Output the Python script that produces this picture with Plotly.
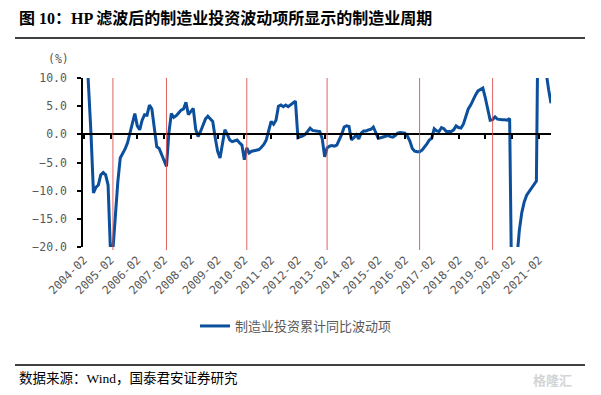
import plotly.graph_objects as go

# ---------------- data ----------------
# monthly (Feb..Dec each year; Jan merged into Feb), 2004-02 .. 2021-07
years = list(range(2004, 2022))
categories = [f"{y}-{m:02d}" for y in years for m in range(2, 13)
              if not (y == 2021 and m > 7)]

cycle_values = [
    # 2004
    25.0, 17.0, 10.3, 0.0, -10.4, -9.4, -9.0, -7.2, -6.8, -7.2, -9.0,
    # 2005
    -21.0, -20.5, -14.0, -8.5, -4.2, -3.5, -2.6, -1.5, 0.3, 2.2, 3.7,
    # 2006
    1.5, 0.8, 2.5, 3.5, 3.4, 5.2, 4.5, 1.5, -2.2, -2.5, -3.5,
    # 2007
    -4.6, -5.7, 0.3, 3.7, 3.0, 3.3, 3.8, 4.3, 4.5, 5.7, 3.5,
    # 2008
    4.0, 4.6, 0.9, -0.4, 0.5, 1.7, 2.7, 3.2, 2.8, 2.3, -0.5,
    # 2009
    -3.0, -4.2, -1.5, 0.8, 0.0, -1.0, -1.3, -1.1, -1.0, -1.5, -1.9,
    # 2010
    -4.5, -2.4, -3.3, -3.0, -2.9, -2.8, -2.7, -2.3, -1.8, -1.0, 0.5,
    # 2011
    2.3, 1.8, 2.5, 5.0, 5.2, 4.9, 5.2, 4.9, 5.2, 5.5, 5.9,
    # 2012
    -0.6, -0.5, -0.3, 0.0, 0.5, 1.1, 0.7, 0.6, 0.6, 0.5, -0.8,
    # 2013
    -4.0, -2.4, -2.1, -2.0, -2.1, -1.9, -1.0, 0.0, 1.3, 1.5, 1.4,
    # 2014
    -1.0, -0.6, -0.1, -0.8, 0.2, 0.6, 0.6, 0.8, 0.9, 1.3, 0.2,
    # 2015
    -0.7, -0.6, -0.5, -0.3, -0.2, -0.4, -0.5, -0.2, 0.2, 0.3, 0.2,
    # 2016
    0.2, -0.3, -1.2, -2.5, -3.0, -3.1, -3.1, -2.8, -2.3, -1.7, -1.0,
    # 2017
    -0.7, 1.0, 0.6, 0.5, 1.2, 1.0, 0.5, 0.5, 0.5, 0.8, 1.5,
    # 2018
    1.2, 1.1, 1.8, 3.0, 4.5, 5.2, 6.2, 7.0, 7.7, 8.0, 8.2,
    # 2019
    6.5, 4.5, 2.5, 2.6, 3.1, 2.7, 2.6, 2.6, 2.6, 2.5, 2.8,
    # 2020
    -33.0, -27.0, -21.5, -17.0, -13.9, -12.0, -10.8, -10.2, -9.6, -8.8, -8.3,
    # 2021
    35.0, 27.0, 18.0, 11.0, 8.0, 5.5,
]

cycle_marks = ["2005-03", "2007-03", "2010-03", "2013-03", "2016-08", "2019-05"]

tick_labels = [f"{y}-02" for y in years]
y_ticks = [-20, -15, -10, -5, 0, 5, 10]
y_ticktext = [f"{v:.1f}".replace("-", "\u2212") for v in y_ticks]

series_name = "制造业投资累计同比波动项"
title_text = "图 10：HP 滤波后的制造业投资波动项所显示的制造业周期"
source_text = "数据来源：Wind，国泰君安证券研究"

# ---------------- layout geometry ----------------
# the page body adds an 8px margin; the figure is sized to fit inside it.
# margins are zero so paper coordinates cover the whole figure; the plot
# area is placed through the axis domains instead.
OFF = 8
W, H = 601 - 2 * OFF, 395 - 2 * OFF
PLOT_L, PLOT_R, PLOT_T, PLOT_B = 83, 551, 78, 247   # window pixels
RULE_L, RULE_R = 15, 585
RULES_Y = [38, 365]


def px_x(px):
    """window pixel x -> paper coordinate"""
    return (px - OFF) / W


def px_y(py):
    """window pixel y -> paper coordinate"""
    return 1 - (py - OFF) / H


X_DOMAIN = [px_x(PLOT_L), px_x(PLOT_R)]
Y_DOMAIN = [px_y(PLOT_B), px_y(PLOT_T)]
Y_ZERO = Y_DOMAIN[0] + (Y_DOMAIN[1] - Y_DOMAIN[0]) * 2 / 3

BLUE = "#0c4f9c"
GRAY = "#595959"
MONO = "DejaVu Sans Mono, Liberation Mono, monospace"
CJK = "Noto Sans CJK SC"
SERIF_CJK = "Liberation Serif, Noto Sans CJK SC"

fig = go.Figure()
fig.add_trace(go.Scatter(
    x=categories, y=cycle_values, mode="lines", name=series_name,
    line=dict(color=BLUE, width=3), hoverinfo="x+y",
))
# invisible trace to carry the zero-line axis with tick marks
fig.add_trace(go.Scatter(
    x=categories, y=cycle_values, mode="lines", xaxis="x2",
    line=dict(color="rgba(0,0,0,0)", width=0), showlegend=False,
    hoverinfo="skip",
))

shapes = []
for m in cycle_marks:
    shapes.append(dict(type="line", xref="x", yref="paper", x0=m, x1=m,
                       y0=px_y(PLOT_B + 3), y1=Y_DOMAIN[1],
                       line=dict(color="rgba(222,70,70,0.85)", width=1),
                       layer="above"))
# header / footer rules
for ry in RULES_Y:
    shapes.append(dict(type="line", xref="paper", yref="paper",
                       x0=px_x(RULE_L), x1=px_x(RULE_R),
                       y0=px_y(ry), y1=px_y(ry),
                       line=dict(color="black", width=1.3), layer="above"))

annotations = [
    dict(text=f"<b>{title_text}</b>", xref="paper", yref="paper",
         x=px_x(17), y=px_y(18), xanchor="left", yanchor="middle",
         showarrow=False, font=dict(family=SERIF_CJK, size=16, color="black")),
    dict(text=source_text, xref="paper", yref="paper",
         x=px_x(17), y=px_y(378), xanchor="left", yanchor="middle",
         showarrow=False, font=dict(family=SERIF_CJK, size=13.5, color="black")),
    dict(text="(%)", xref="paper", yref="paper",
         x=px_x(58), y=px_y(59), xanchor="center", yanchor="middle",
         showarrow=False, font=dict(family=MONO, size=11.5, color=GRAY)),
    dict(text="<b>格隆汇</b>", xref="paper", yref="paper",
         x=px_x(574), y=px_y(379), xanchor="right", yanchor="middle",
         showarrow=False, font=dict(family=CJK, size=13, color="#d4d4d4")),
]

fig.update_layout(
    width=W, height=H,
    margin=dict(l=0, r=0, t=0, b=0, pad=0),
    paper_bgcolor="white", plot_bgcolor="white",
    showlegend=True,
    legend=dict(orientation="h", x=px_x(195), y=px_y(326),
                xanchor="left", yanchor="middle",
                font=dict(family=CJK, size=13, color=GRAY),
                bgcolor="rgba(0,0,0,0)"),
    xaxis=dict(type="category", domain=X_DOMAIN,
               range=[-0.3, len(categories) - 1],
               tickmode="array", tickvals=tick_labels, ticktext=tick_labels,
               tickangle=-45, ticks="", showline=False, showgrid=False,
               zeroline=False, ticklabelstandoff=3, automargin=False,
               tickfont=dict(family=MONO, size=11.5, color=GRAY)),
    xaxis2=dict(type="category", overlaying="x", anchor="free",
                position=Y_ZERO, side="bottom", domain=X_DOMAIN,
                range=[-0.3, len(categories) - 1],
                tickmode="array", tickvals=tick_labels,
                showticklabels=False, ticks="outside", ticklen=4,
                tickwidth=1.5, tickcolor="black",
                showline=True, linecolor="black", linewidth=1.5,
                showgrid=False, zeroline=False, automargin=False),
    yaxis=dict(domain=Y_DOMAIN, range=[-20, 10], tickmode="array",
               tickvals=y_ticks, ticktext=y_ticktext, showline=True,
               linecolor="black", linewidth=1.5, ticks="outside", ticklen=4,
               tickwidth=1.5, tickcolor="black", showgrid=False,
               zeroline=False, ticklabelstandoff=8, automargin=False,
               tickfont=dict(family=MONO, size=11.5, color=GRAY)),
    shapes=shapes,
    annotations=annotations,
)

fig.write_html("out.html")
